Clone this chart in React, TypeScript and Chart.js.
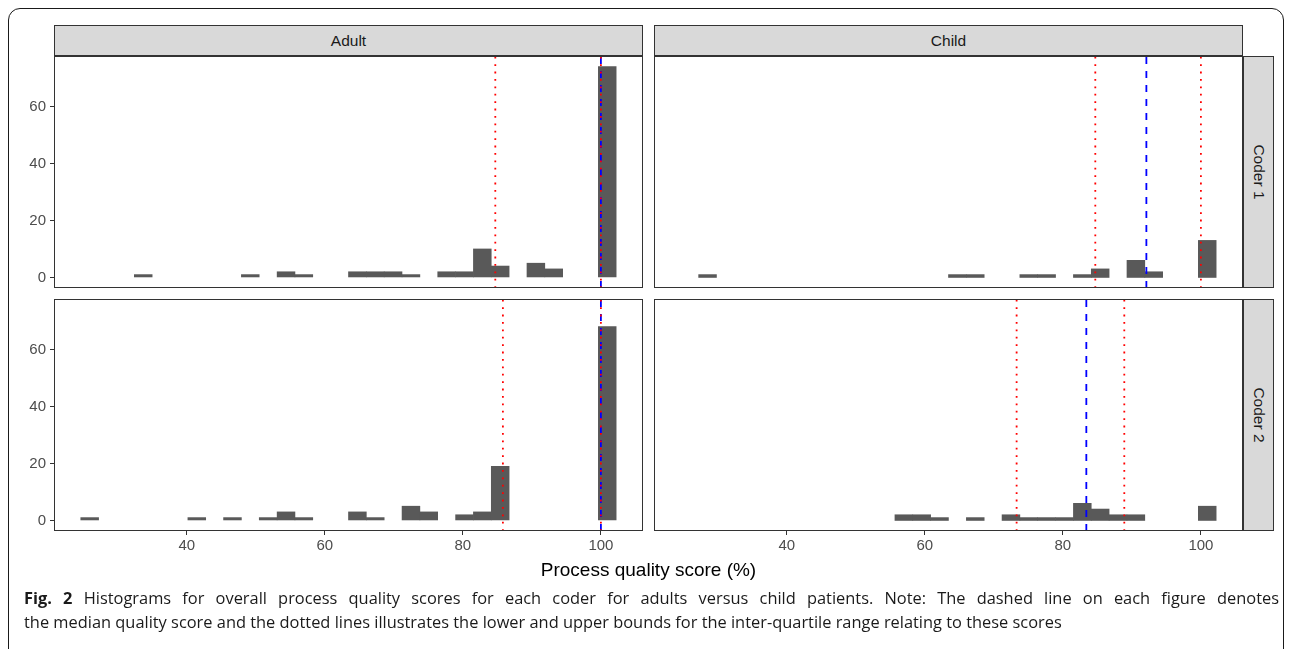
import React, { useEffect, useRef } from "react";
import { Chart, registerables } from "chart.js";

Chart.register(...registerables);

// ---- data ----
const binCenters = [
  25.93, 28.52, 31.1, 33.69, 36.27, 38.86, 41.45, 44.03, 46.62, 49.2,
  51.79, 54.38, 56.96, 59.55, 62.13, 64.72, 67.31, 69.89, 72.48, 75.06,
  77.65, 80.24, 82.82, 85.41, 87.99, 90.58, 93.17, 95.75, 98.34, 100.92,
];
const adultCoder1 = [0, 0, 0, 1, 0, 0, 0, 0, 0, 1, 0, 2, 1, 0, 0, 2, 2, 2, 1, 0, 2, 2, 10, 4, 0, 5, 3, 0, 0, 74];
const adultCoder2 = [1, 0, 0, 0, 0, 0, 1, 0, 1, 0, 1, 3, 1, 0, 0, 3, 1, 0, 5, 3, 0, 2, 3, 19, 0, 0, 0, 0, 0, 68];
const childCoder1 = [0, 1, 0, 0, 0, 0, 0, 0, 0, 0, 0, 0, 0, 0, 0, 1, 1, 0, 0, 1, 1, 0, 1, 3, 0, 6, 2, 0, 0, 13];
const childCoder2 = [0, 0, 0, 0, 0, 0, 0, 0, 0, 0, 0, 0, 2, 2, 1, 0, 1, 0, 2, 1, 1, 1, 6, 4, 2, 2, 0, 0, 0, 5];

// [lower quartile, median, upper quartile]
const adultCoder1Stats = [84.7, 100, 100];
const adultCoder2Stats = [85.8, 100, 100];
const childCoder1Stats = [84.7, 92.1, 100];
const childCoder2Stats = [73.3, 83.4, 88.9];

const xTicks = [40, 60, 80, 100];
const yTicks = [0, 20, 40, 60];
const colLabels = ["Adult", "Child"];
const rowLabels = ["Coder 1", "Coder 2"];
const xTitle = "Process quality score (%)";
const captionLine1 =
  "Histograms for overall process quality scores for each coder for adults versus child patients. Note: The dashed line on each figure denotes";
const captionLine2 =
  "the median quality score and the dotted lines illustrates the lower and upper bounds for the inter-quartile range relating to these scores";

const X_MIN = 20.76;
const X_MAX = 106.1;
const Y_MIN = -3.7;
const Y_MAX = 77.7;

// ---- layout ----
const PAD = 2;
const Y_AXIS_W = 46;
const X_AXIS_H = 30;
const PANEL_W = 589;
const PANEL_H = 232;
const COL_X = [54, 654];
const ROW_Y = [56, 299];
const AXIS_FONT = '"Liberation Sans", Arial, Helvetica, sans-serif';

const panelBorder = {
  id: "panelBorder",
  afterDatasetsDraw(chart: any) {
    const { ctx, chartArea: a } = chart;
    ctx.save();
    ctx.strokeStyle = "#333333";
    ctx.lineWidth = 1;
    ctx.strokeRect(a.left + 0.5, a.top + 0.5, a.right - a.left - 1, a.bottom - a.top - 1);
    ctx.restore();
  },
};

function vline(x: number, color: string, dash: number[], order: number) {
  return {
    type: "line" as const,
    data: [
      { x, y: Y_MIN },
      { x, y: Y_MAX },
    ],
    borderColor: color,
    borderWidth: 1.8,
    borderDash: dash,
    pointRadius: 0,
    fill: false,
    order,
  };
}

function Panel({
  counts,
  stats,
  showX,
  showY,
  left,
  top,
}: {
  counts: number[];
  stats: number[];
  showX: boolean;
  showY: boolean;
  left: number;
  top: number;
}) {
  const ref = useRef<HTMLCanvasElement>(null);
  const w = PANEL_W + PAD + (showY ? Y_AXIS_W : PAD);
  const h = PANEL_H + PAD + (showX ? X_AXIS_H : PAD);
  useEffect(() => {
    if (!ref.current) return;
    const tickGrid = {
      display: true,
      drawOnChartArea: false,
      drawTicks: true,
      offset: false,
      tickLength: 4,
      tickColor: "#333333",
      tickWidth: 1,
    };
    const tickFont = { family: AXIS_FONT, size: 15 };
    const xScale: any = {
      type: "linear",
      min: X_MIN,
      max: X_MAX,
      offset: false,
      display: showX,
      afterBuildTicks: (s: any) => {
        s.ticks = xTicks.map((v) => ({ value: v }));
      },
      grid: tickGrid,
      border: { display: false },
      ticks: {
        color: "#4D4D4D",
        font: tickFont,
        padding: 2,
        maxRotation: 0,
        autoSkip: false,
      },
    };
    if (showX) {
      xScale.afterFit = (s: any) => {
        s.height = X_AXIS_H;
        s.paddingLeft = 0;
        s.paddingRight = 0;
      };
    }
    const yScale: any = {
      type: "linear",
      min: Y_MIN,
      max: Y_MAX,
      display: showY,
      afterBuildTicks: (s: any) => {
        s.ticks = yTicks.map((v) => ({ value: v }));
      },
      grid: tickGrid,
      border: { display: false },
      ticks: {
        color: "#4D4D4D",
        font: tickFont,
        padding: 4,
        autoSkip: false,
      },
    };
    if (showY) {
      yScale.afterFit = (s: any) => {
        s.width = Y_AXIS_W;
        s.paddingTop = 0;
        s.paddingBottom = 0;
      };
    }
    const chart = new Chart(ref.current, {
      type: "bar",
      data: {
        datasets: [
          {
            type: "bar",
            data: binCenters.map((x, i) => ({ x, y: counts[i] })),
            backgroundColor: (c: any) =>
              c.raw && c.raw.y > 0 ? "#595959" : "rgba(0,0,0,0)",
            borderWidth: 0,
            barPercentage: 1,
            categoryPercentage: 1,
            order: 4,
          } as any,
          vline(stats[1], "#0000FF", [7, 7], 3),
          vline(stats[0], "#FF0000", [1.8, 5.6], 2),
          vline(stats[2], "#FF0000", [1.8, 5.6], 1),
        ],
      },
      options: {
        animation: false,
        responsive: false,
        maintainAspectRatio: false,
        events: [],
        layout: {
          padding: {
            left: showY ? 0 : PAD,
            right: PAD,
            top: PAD,
            bottom: showX ? 0 : PAD,
          },
        },
        plugins: { legend: { display: false }, tooltip: { enabled: false } },
        scales: { x: xScale, y: yScale },
      } as any,
      plugins: [panelBorder],
    });
    return () => chart.destroy();
  }, []);
  return (
    <div
      style={{
        position: "absolute",
        left: left - (showY ? Y_AXIS_W : PAD),
        top: top - PAD,
        width: w,
        height: h,
      }}
    >
      <canvas ref={ref} width={w} height={h} style={{ width: w, height: h }} />
    </div>
  );
}

const stripBase: React.CSSProperties = {
  position: "absolute",
  boxSizing: "border-box",
  background: "#D9D9D9",
  border: "1px solid #333333",
  display: "flex",
  alignItems: "center",
  justifyContent: "center",
  fontFamily: AXIS_FONT,
  fontSize: 15.5,
  color: "#1A1A1A",
};

const captionStyle: React.CSSProperties = {
  position: "absolute",
  left: 24,
  fontFamily: '"Open Sans", "Noto Sans", sans-serif',
  fontSize: 16.4,
  lineHeight: "24px",
  color: "#1A1A1A",
  whiteSpace: "nowrap",
};

export default function App() {
  useEffect(() => {
    document.body.style.overflow = "hidden";
  }, []);
  return (
    <div
      style={{
        position: "fixed",
        left: 0,
        top: 0,
        width: 1290,
        height: 649,
        overflow: "hidden",
        background: "#FFFFFF",
      }}
    >
      <div
        style={{
          position: "absolute",
          left: 8,
          top: 8,
          width: 1276,
          height: 700,
          boxSizing: "border-box",
          border: "1.5px solid #1A1A1A",
          borderRadius: 12,
        }}
      />
      {colLabels.map((t, i) => (
        <div
          key={t}
          style={{ ...stripBase, left: COL_X[i], top: 25, width: PANEL_W, height: 31 }}
        >
          {t}
        </div>
      ))}
      {rowLabels.map((t, i) => (
        <div
          key={t}
          style={{ ...stripBase, left: 1243, top: ROW_Y[i], width: 31, height: PANEL_H }}
        >
          <span style={{ display: "inline-block", transform: "rotate(90deg)", whiteSpace: "nowrap" }}>{t}</span>
        </div>
      ))}
      <Panel counts={adultCoder1} stats={adultCoder1Stats} showX={false} showY={true} left={COL_X[0]} top={ROW_Y[0]} />
      <Panel counts={childCoder1} stats={childCoder1Stats} showX={false} showY={false} left={COL_X[1]} top={ROW_Y[0]} />
      <Panel counts={adultCoder2} stats={adultCoder2Stats} showX={true} showY={true} left={COL_X[0]} top={ROW_Y[1]} />
      <Panel counts={childCoder2} stats={childCoder2Stats} showX={true} showY={false} left={COL_X[1]} top={ROW_Y[1]} />
      <div
        style={{
          position: "absolute",
          left: COL_X[0],
          width: COL_X[1] + PANEL_W - COL_X[0],
          top: 560,
          textAlign: "center",
          fontFamily: AXIS_FONT,
          fontSize: 19,
          lineHeight: "20px",
          color: "#000000",
          whiteSpace: "nowrap",
        }}
      >
        {xTitle}
      </div>
      <div
        style={{
          ...captionStyle,
          top: 586,
          width: 1255,
          whiteSpace: "normal",
          textAlign: "justify",
          textAlignLast: "justify",
        }}
      >
        <b>Fig. 2</b> {captionLine1}
      </div>
      <div style={{ ...captionStyle, top: 610 }}>{captionLine2}</div>
    </div>
  );
}
